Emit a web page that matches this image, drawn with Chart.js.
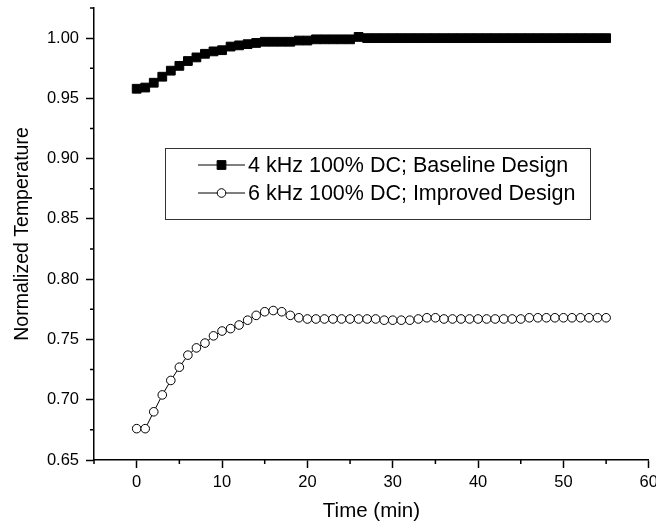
<!DOCTYPE html>
<html>
<head>
<meta charset="utf-8">
<title>Normalized Temperature</title>
<script src="https://cdn.jsdelivr.net/npm/chart.js@4.4.1/dist/chart.umd.min.js"></script>
<style>
  html, body { margin: 0; padding: 0; background: #fff; }
  canvas { display: block; }
</style>
</head>
<body>
<canvas id="myChart" width="656" height="529"></canvas>
<script>
// Data
const timeMin = [
  0, 1, 2, 3, 4, 5, 6, 7, 8, 9,
  10, 11, 12, 13, 14, 15, 16, 17, 18, 19,
  20, 21, 22, 23, 24, 25, 26, 27, 28, 29,
  30, 31, 32, 33, 34, 35, 36, 37, 38, 39,
  40, 41, 42, 43, 44, 45, 46, 47, 48, 49,
  50, 51, 52, 53, 54, 55
];
const baseline4kHz = [
  0.958, 0.959, 0.963, 0.968, 0.973, 0.977, 0.981, 0.984, 0.987, 0.989,
  0.990, 0.993, 0.994, 0.995, 0.996, 0.997, 0.997, 0.997, 0.997, 0.998,
  0.998, 0.999, 0.999, 0.999, 0.999, 0.999, 1.001, 1.000, 1.000, 1.000,
  1.000, 1.000, 1.000, 1.000, 1.000, 1.000, 1.000, 1.000, 1.000, 1.000,
  1.000, 1.000, 1.000, 1.000, 1.000, 1.000, 1.000, 1.000, 1.000, 1.000,
  1.000, 1.000, 1.000, 1.000, 1.000, 1.000
];
const improved6kHz = [
  0.676, 0.676, 0.690, 0.704, 0.716, 0.727, 0.737, 0.743, 0.747, 0.753,
  0.757, 0.759, 0.762, 0.766, 0.770, 0.773, 0.774, 0.773, 0.770, 0.768,
  0.767, 0.767, 0.767, 0.767, 0.767, 0.767, 0.767, 0.767, 0.767, 0.766,
  0.766, 0.766, 0.766, 0.767, 0.768, 0.768, 0.767, 0.767, 0.767, 0.767,
  0.767, 0.767, 0.767, 0.767, 0.767, 0.767, 0.768, 0.768, 0.768, 0.768,
  0.768, 0.768, 0.768, 0.768, 0.768, 0.768
];
const seriesLabels = ['4 kHz 100% DC; Baseline Design', '6 kHz 100% DC; Improved Design'];

// Axis ticks
const xMajorTicks = [0, 10, 20, 30, 40, 50, 60];
const xMinorTicks = [-5, 5, 15, 25, 35, 45, 55];
const yMajorTicks = [0.65, 0.70, 0.75, 0.80, 0.85, 0.90, 0.95, 1.00];
const yMinorTicks = [0.675, 0.725, 0.775, 0.825, 0.875, 0.925, 0.975, 1.025];

const FONT = 'Liberation Sans, Arial, sans-serif';

function buildTicks(major, minor) {
    const all = major.map(v => ({ value: v, minor: false }))
        .concat(minor.map(v => ({ value: v, minor: true })));
    return all.sort((a, b) => a.value - b.value);
}

function toPoints(xs, ys) {
    return xs.map((x, i) => ({ x: x, y: ys[i] }));
}

// Short minor ticks, drawn outward from the axis lines
const minorTickPlugin = {
    id: 'minorTicks',
    afterDraw(chart) {
        const c = chart.ctx;
        const xs = chart.scales.x, ys = chart.scales.y;
        c.save();
        c.strokeStyle = '#000';
        c.lineWidth = 1.5;
        c.beginPath();
        xs.ticks.forEach(t => {
            if (!t.minor) return;
            const px = xs.getPixelForValue(t.value);
            c.moveTo(px, xs.top);
            c.lineTo(px, xs.top + 4);
        });
        ys.ticks.forEach(t => {
            if (!t.minor) return;
            const py = ys.getPixelForValue(t.value);
            c.moveTo(ys.right, py);
            c.lineTo(ys.right - 4, py);
        });
        c.stroke();
        c.restore();
    }
};

// Boxed legend inside the plot, as in the original figure
const legendBoxPlugin = {
    id: 'legendBox',
    afterDraw(chart) {
        const c = chart.ctx;
        const box = { left: 165, top: 148, right: 590, bottom: 219 };
        c.save();
        c.strokeStyle = '#333';
        c.lineWidth = 1;
        c.strokeRect(box.left + 0.5, box.top + 0.5, box.right - box.left, box.bottom - box.top);

        const rows = [165, 193];
        chart.data.datasets.forEach((ds, i) => {
            const y = rows[i];
            c.strokeStyle = '#000';
            c.lineWidth = 1;
            c.beginPath();
            c.moveTo(198, y);
            c.lineTo(245, y);
            c.stroke();
            c.fillStyle = ds.pointBackgroundColor;
            c.strokeStyle = ds.pointBorderColor;
            c.lineWidth = ds.pointBorderWidth;
            c.beginPath();
            if (ds.pointStyle === 'rect') {
                const s = ds.pointRadius * Math.SQRT1_2;
                c.rect(221.5 - s, y - s, 2 * s, 2 * s);
            } else {
                c.arc(221.5, y, ds.pointRadius, 0, Math.PI * 2);
            }
            c.fill();
            c.stroke();
            c.fillStyle = '#000';
            c.font = '21.5px ' + FONT;
            c.textBaseline = 'middle';
            c.textAlign = 'left';
            c.fillText(ds.label, 248, y + 1);
        });
        c.restore();
    }
};

const ctx = document.getElementById('myChart').getContext('2d');

const myChart = new Chart(ctx, {
    type: 'scatter',
    data: {
        datasets: [{
            label: seriesLabels[0],
            data: toPoints(timeMin, baseline4kHz),
            showLine: true,
            borderColor: '#000',
            borderWidth: 1,
            pointStyle: 'rect',
            pointRadius: 6.2,
            pointBorderWidth: 1,
            pointBackgroundColor: '#000',
            pointBorderColor: '#000'
        }, {
            label: seriesLabels[1],
            data: toPoints(timeMin, improved6kHz),
            showLine: true,
            borderColor: '#000',
            borderWidth: 1,
            pointStyle: 'circle',
            pointRadius: 4.3,
            pointBorderWidth: 1,
            pointBackgroundColor: '#fff',
            pointBorderColor: '#000'
        }]
    },
    options: {
        responsive: false,
        animation: false,
        clip: false,
        layout: { padding: { top: 8, right: 7, left: 0, bottom: 0 } },
        plugins: {
            legend: { display: false },
            tooltip: { enabled: false }
        },
        scales: {
            x: {
                type: 'linear',
                min: -5,
                max: 60,
                afterBuildTicks: s => { s.ticks = buildTicks(xMajorTicks, xMinorTicks); },
                afterFit: s => { s.height = 69; s.paddingLeft = 0; s.paddingRight = 0; },
                ticks: {
                    autoSkip: false,
                    maxRotation: 0,
                    color: '#000',
                    padding: 5,
                    font: { family: FONT, size: 16.5 },
                    callback: (v, i, ticks) => ticks[i].minor ? '' : String(v)
                },
                grid: {
                    drawOnChartArea: false,
                    tickLength: 8,
                    tickWidth: 1.5,
                    tickColor: c => (c.tick && c.tick.minor) ? 'rgba(0,0,0,0)' : '#000'
                },
                border: { color: '#000', width: 1.5 },
                title: {
                    display: true,
                    text: 'Time (min)',
                    color: '#000',
                    font: { family: FONT, size: 20.5 },
                    padding: { top: 0, bottom: 5 }
                }
            },
            y: {
                type: 'linear',
                min: 0.65,
                max: 1.025,
                afterBuildTicks: s => { s.ticks = buildTicks(yMajorTicks, yMinorTicks); },
                afterFit: s => { s.width = 94; s.paddingTop = 0; s.paddingBottom = 0; },
                ticks: {
                    autoSkip: false,
                    color: '#000',
                    padding: 7,
                    font: { family: FONT, size: 16.5 },
                    callback: (v, i, ticks) => ticks[i].minor ? '' : v.toFixed(2)
                },
                grid: {
                    drawOnChartArea: false,
                    tickLength: 8,
                    tickWidth: 1.5,
                    tickColor: c => (c.tick && c.tick.minor) ? 'rgba(0,0,0,0)' : '#000'
                },
                border: { color: '#000', width: 1.5 },
                title: {
                    display: true,
                    text: 'Normalized Temperature',
                    color: '#000',
                    font: { family: FONT, size: 19.5 },
                    padding: { top: 11, bottom: 0 }
                }
            }
        }
    },
    plugins: [minorTickPlugin, legendBoxPlugin]
});
</script>
</body>
</html>
